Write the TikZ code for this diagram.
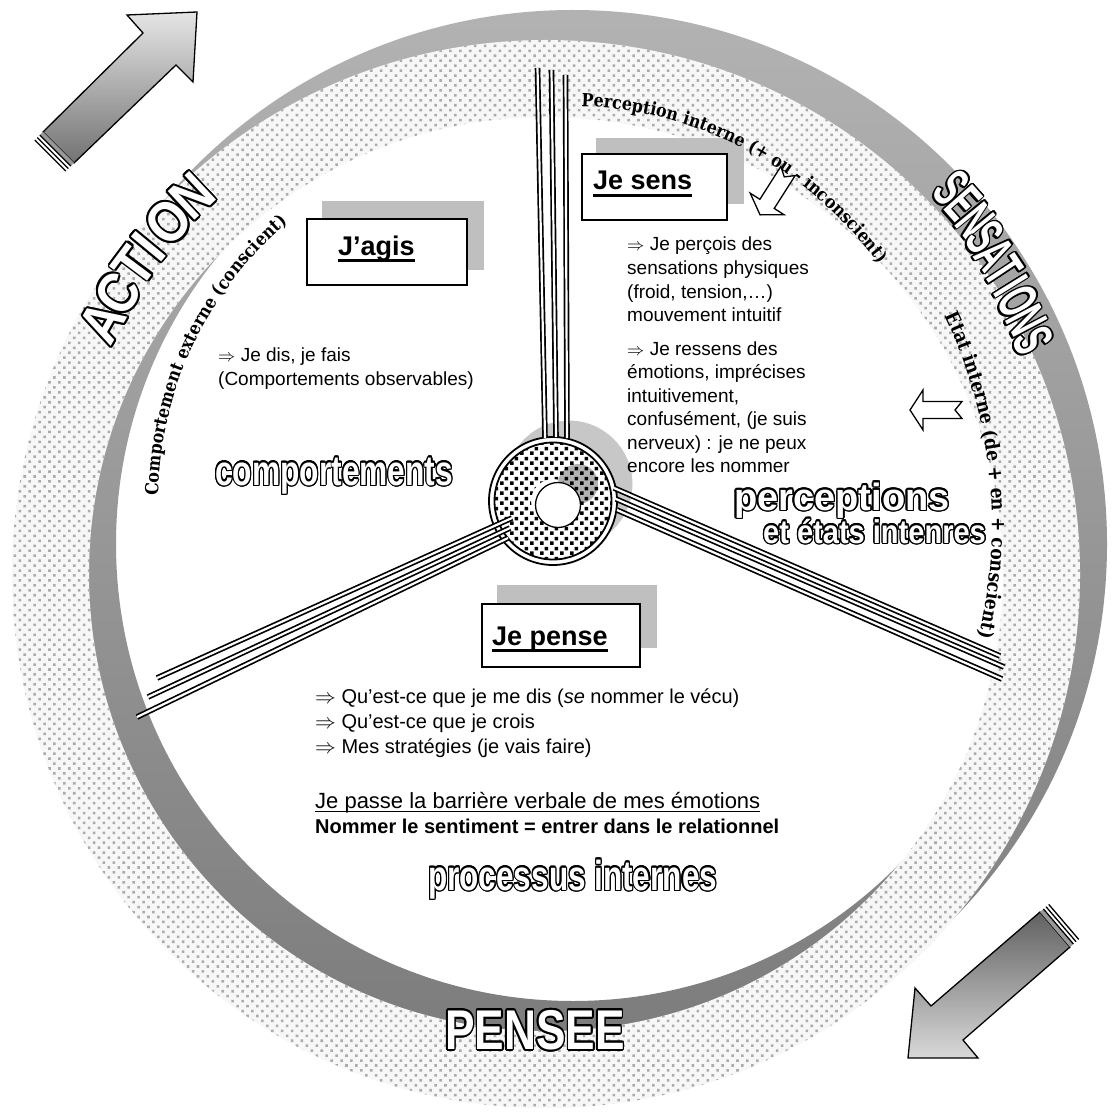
\documentclass[tikz,border=0pt]{standalone}
\usepackage{fontspec}
\setmainfont{Liberation Sans}
\newfontfamily\arcfont[FakeStretch=0.88]{DejaVu Serif}
\usetikzlibrary{patterns,patterns.meta,decorations.text}
\pgfdeclarepatternformonly{sqdots}{\pgfpointorigin}{\pgfpoint{10pt}{10pt}}{\pgfpoint{10pt}{10pt}}{%
  \pgfpathrectangle{\pgfpoint{0pt}{0pt}}{\pgfpoint{4pt}{4pt}}%
  \pgfpathrectangle{\pgfpoint{5pt}{5pt}}{\pgfpoint{4pt}{4pt}}%
  \pgfusepath{fill}}
\newdimen\holw
\newcommand\holat[2]{\rlap{\kern#1\holw\raisebox{#2\holw}{\textcolor{black}{\copy0}}}}
\newcommand\hol[2][1.5pt]{\leavevmode\holw=#1\relax\setbox0=\hbox{#2}%
 \holat{1}{0}\holat{-1}{0}\holat{0}{1}\holat{0}{-1}%
 \holat{0.707}{0.707}\holat{-0.707}{0.707}\holat{0.707}{-0.707}\holat{-0.707}{-0.707}%
 \holat{0.92}{0.38}\holat{-0.92}{0.38}\holat{0.92}{-0.38}\holat{-0.92}{-0.38}%
 \holat{0.38}{0.92}\holat{-0.38}{0.92}\holat{0.38}{-0.92}\holat{-0.38}{-0.92}%
 \textcolor{white}{\box0}}
\newcommand\myul[3]{\setbox0=\hbox{#3}\rlap{\rule[#1]{\wd0}{#2}}\box0}
\newcommand\arcsty{\arcfont\bfseries\fontsize{18}{18}\selectfont}
\newcommand\arcstyb{\arcfont\bfseries\fontsize{19.5}{19.5}\selectfont}
\newcommand\bigsans[1]{\fontsize{#1}{#1}\selectfont\bfseries}
\tikzset{
 shadowbox/.style={fill=black!25},
 mainbox/.style={draw=black, line width=1.8pt, fill=white},
 body/.style={anchor=base west, inner sep=0pt, font=\fontsize{19}{23}\selectfont},
 bodyp/.style={anchor=base west, inner sep=0pt, font=\fontsize{20}{24}\selectfont},
 title/.style={anchor=base west, inner sep=0pt, font=\fontsize{27}{30}\selectfont\bfseries},
 spokeline/.style={draw=black, line width=1.7pt, double=white, double distance=2.2pt},
 hollowarrow/.style={draw=black, line width=1.3pt, fill=white, line join=miter},
 bigarrow/.style={draw=black, line width=1.3pt, line join=miter, shading angle=45},
 capline/.style={draw=black, line width=1.3pt},
 arctext/.style={decorate, decoration={text along path, text={|\arcsty|#1}}},
 arctextb/.style={decorate, decoration={text along path, text={|\arcstyb|#1}}},
 outl/.style={inner sep=0pt},
 ringletter/.style={inner sep=0pt}
}
\begin{document}
\begin{tikzpicture}[x=1pt,y=1pt]
\useasboundingbox (0,0) rectangle (1112,-1115);
\fill[white] (0,0) rectangle (1112,-1115);

% ---- gray shadow ring
\shade[even odd rule, top color=black!30, bottom color=black!52]
  (573,-544) circle[radius=534] (573,-544) circle[radius=457];
% ---- dotted ring
\fill[black!3, even odd rule] (546,-574) circle[radius=534] (546,-574) circle[radius=457];
\fill[even odd rule, pattern={Dots[distance=7pt, radius=1.8pt, angle=45]}, pattern color=black!33]
  (546,-574) circle[radius=534] (546,-574) circle[radius=457];

% ---- big arrows
\shade[bigarrow, top color=black!10, bottom color=black!55]
  (197,-12) -- (127,-15) -- (143,-33) -- (43,-132) -- (74,-163) -- (176,-65) -- (193,-82) -- cycle;
\fill[black!40] (43,-132) -- (74,-163) -- (71.1,-165.8) -- (40.1,-134.8) -- cycle;
\draw[capline] (39.8,-135.1) -- (70.8,-166.1);
\draw[capline] (37.3,-137.6) -- (68.3,-168.6);
\draw[capline] (34.8,-140.0) -- (65.8,-171.0);

\shade[bigarrow, top color=black!62, bottom color=black!15]
  (908,-1058) -- (915,-988) -- (931,-1006) -- (1040,-912) -- (1070,-947) -- (963,-1040) -- (978,-1058) -- cycle;
\fill[black!40] (1040,-912) -- (1070,-947) -- (1073,-944.4) -- (1043,-909.4) -- cycle;
\draw[capline] (1043.4,-909.0) -- (1073.4,-944.0);
\draw[capline] (1046.0,-906.7) -- (1076.0,-941.7);
\draw[capline] (1048.7,-904.4) -- (1078.7,-939.4);

% ---- hub
\fill[black!22] (569,-484) circle[radius=64];
\draw[white, line width=1pt] (569,-484) circle[radius=64];
\fill[white] (553,-501) circle[radius=64];
\fill[black!30] (578,-484) circle[radius=20];
\fill[even odd rule, pattern=sqdots, pattern color=black] (553,-501) circle[radius=58] (553,-501) circle[radius=22];
\draw[line width=1.8pt] (553,-501) circle[radius=64];
\draw[line width=1.8pt] (553,-501) circle[radius=58.5];
\node[draw=black, line width=1.3pt, fill=white, circle, minimum size=45pt, inner sep=0pt] (hub) at (558,-505) {};

% ---- spokes
\draw[spokeline] (537.5,-68) -- (545,-438);
\draw[spokeline] (551.5,-70) -- (556,-437);
\draw[spokeline] (565.5,-75) -- (567,-438);

\draw[spokeline] (614,-488) -- (1000,-656);
\draw[spokeline] (616,-499) -- (1004,-667);
\draw[spokeline] (617,-510) -- (1002,-679);

\draw[spokeline] (157,-678) -- (512,-518);
\draw[spokeline] (148,-697) -- (510,-528);
\draw[spokeline] (137,-717) -- (508,-538);

% ---- boxes
\fill[shadowbox] (322,-201) rectangle (484,-270);
\draw[mainbox] (307,-219) rectangle (467,-285);
\node[title] (jagis) at (338,-255) {\myul{-0.26em}{0.1em}{J’agis}};

\fill[shadowbox] (596,-138) rectangle (744,-204);
\draw[mainbox] (582,-154) rectangle (727,-220);
\node[title] (jesens) at (593,-190) {\myul{-0.26em}{0.1em}{Je sens}};

\fill[shadowbox] (497,-585) rectangle (657,-648);
\draw[mainbox] (482,-604) rectangle (640,-667);
\node[title] (jepense) at (492,-645) {\myul{-0.26em}{0.1em}{Je pense}};

% ---- body texts
\node[body] (a1) at (218,-361) {$\Rightarrow$ Je dis, je fais};
\node[body] (a2) at (218,-385) {(Comportements observables)};

\node[body] (s1) at (627,-251) {$\Rightarrow$ Je perçois des};
\node[body] (s2) at (627,-274.5) {sensations physiques};
\node[body] (s3) at (627,-298) {(froid, tension,…)};
\node[body] (s4) at (627,-321.5) {mouvement intuitif};
\node[body] (s5) at (627,-355) {$\Rightarrow$ Je ressens des};
\node[body] (s6) at (627,-378.5) {émotions, imprécises};
\node[body] (s7) at (627,-402) {intuitivement,};
\node[body] (s8) at (627,-425.5) {confusément, (je suis};
\node[body] (s9) at (627,-449) {nerveux) : je ne peux};
\node[body] (s10) at (627,-472.5) {encore les nommer};

\node[bodyp] (p1) at (315,-703) {$\Rightarrow$ Qu’est-ce que je me dis (\textit{se} nommer le vécu)};
\node[bodyp] (p2) at (315,-728) {$\Rightarrow$ Qu’est-ce que je crois};
\node[bodyp] (p3) at (315,-753) {$\Rightarrow$ Mes stratégies (je vais faire)};
\node[anchor=base west, inner sep=0pt, font=\fontsize{22}{24}\selectfont] (p4) at (315,-808)
  {\myul{-0.2em}{0.07em}{Je passe la barrière verbale de mes émotions}};
\node[anchor=base west, inner sep=0pt, font=\fontsize{20}{24}\selectfont\bfseries] (p5) at (315,-833)
  {Nommer le sentiment = entrer dans le relationnel};

% ---- outlined words
\node[outl, anchor=base west] (w1) at (215,-485) {\bigsans{42}\scalebox{0.755}[1]{\hol{comportements}}};
\node[outl, anchor=base west] (w2) at (734,-510) {\bigsans{38}\scalebox{1.0}[1]{\hol{perceptions}}};
\node[outl, anchor=base west] (w3) at (763,-543) {\bigsans{33}\scalebox{0.88}[1]{\hol{et états intenres}}};
\node[outl, anchor=base west] (w4) at (428,-890) {\bigsans{42}\scalebox{0.75}[1]{\hol{processus internes}}};
\node[outl] (w5) at (535,-1030) {\bigsans{56}\scalebox{0.79}[1]{\hol[1.9pt]{PENSEE}}};

\begin{scope}[shift={(546,-574)}]
\foreach \ch/\ang/\rad/\rot [count=\i] in {A/150.4/510/60.4, C/146.8/512/56.8, T/143.2/514/53.2, I/140.5/515/50.5, O/137.0/516/47.0, N/133.1/518/43.1}
  \node[ringletter, rotate=\rot] (act\i) at (\ang:\rad) {\bigsans{57}\scalebox{0.88}[1]{\hol[2pt]{\ch}}};
\foreach \ch/\ang/\rad/\rot [count=\i] in {S/43.6/560/-46.4, E/41.6/558/-48.4, N/39.5/556/-50.5, S/37.5/553/-52.5, A/35.5/551/-54.5, T/33.5/549/-56.5, I/31.8/547/-58.2, O/30.0/545/-60, N/27.8/543/-62.2, S/25.6/540/-64.4}
  \node[ringletter, rotate=\rot] (sen\i) at (\ang:\rad) {\bigsans{56}\scalebox{0.55}[1]{\hol[2pt]{\ch}}};
\end{scope}

% ---- text along arcs
\path[arctext={Perception interne (+ ou - inconscient)}] (568,-490) ++(88:384) arc[start angle=88, end angle=22, radius=384];
\path[arctext={Comportement externe (conscient)}] (523,-502) ++(179:365) arc[start angle=179, end angle=112, radius=365];
\path[arctextb={Etat interne (de + en + conscient)}] (505,-525) ++(25.5:487) arc[start angle=25.5, end angle=-24, radius=487];

% ---- hollow arrows
\draw[hollowarrow, shift={(788,-171)}, rotate=-122.5] (0,8.5) -- (39,8.5) -- (39,20) -- (52,0) -- (39,-20) -- (39,-8.5) -- (0,-8.5) -- (7,0) -- cycle;
\draw[hollowarrow, shift={(962,-410)}, rotate=180] (0,8.5) -- (39,8.5) -- (39,20) -- (52,0) -- (39,-20) -- (39,-8.5) -- (0,-8.5) -- (7,0) -- cycle;
\end{tikzpicture}
\end{document}
